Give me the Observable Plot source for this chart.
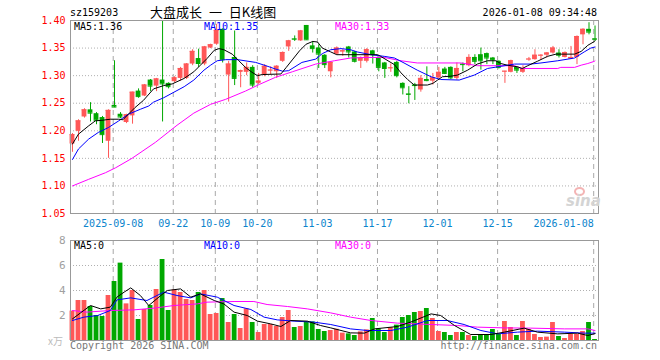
<!DOCTYPE html>
<html><head><meta charset="utf-8">
<script src="https://cdn.jsdelivr.net/npm/d3@7"></script>
<script src="https://cdn.jsdelivr.net/npm/@observablehq/plot@0.6"></script>
<style>
body{margin:0;background:#fff;}
#wrap{position:relative;width:660px;height:360px;overflow:hidden;font-family:"DejaVu Sans Mono",monospace;}
#wrap svg{position:absolute;left:0;}
.t{position:absolute;white-space:pre;font-size:10px;line-height:12px;font-family:"DejaVu Sans Mono",monospace;}
</style></head><body><div id="wrap"></div>
<script>
// ---- data (candle index 0 = 2025-08-28 ... 87 = 2026-01-08) ----
const openP = [1.176,1.199,1.225,1.238,1.231,1.224,1.181,1.246,1.230,1.215,1.227,1.272,1.263,1.292,1.281,1.292,1.286,1.289,1.295,1.295,1.321,1.331,1.321,1.350,1.357,1.384,1.301,1.333,1.306,1.306,1.315,1.286,1.301,1.309,1.307,1.326,1.352,1.367,1.363,1.391,1.354,1.350,1.337,1.307,1.339,1.343,1.352,1.343,1.326,1.326,1.345,1.332,1.323,1.313,1.324,1.286,1.267,1.283,1.274,1.293,1.290,1.296,1.312,1.315,1.295,1.321,1.318,1.333,1.338,1.340,1.332,1.326,1.307,1.306,1.315,1.306,1.329,1.329,1.336,1.337,1.341,1.341,1.333,1.330,1.333,1.374,1.384,1.367];
const highP = [1.195,1.220,1.240,1.251,1.233,1.226,1.238,1.327,1.233,1.230,1.270,1.276,1.284,1.293,1.295,1.400,1.287,1.298,1.315,1.322,1.347,1.348,1.353,1.357,1.393,1.385,1.326,1.381,1.310,1.323,1.318,1.304,1.320,1.316,1.318,1.343,1.364,1.372,1.382,1.391,1.362,1.356,1.338,1.325,1.352,1.347,1.353,1.344,1.334,1.349,1.346,1.334,1.324,1.321,1.326,1.287,1.280,1.286,1.300,1.316,1.304,1.315,1.315,1.316,1.323,1.323,1.338,1.338,1.350,1.341,1.333,1.327,1.308,1.328,1.316,1.318,1.333,1.347,1.338,1.342,1.353,1.347,1.343,1.353,1.372,1.385,1.396,1.390];
const lowP = [1.161,1.181,1.223,1.216,1.211,1.177,1.150,1.242,1.222,1.213,1.212,1.259,1.262,1.271,1.271,1.216,1.276,1.287,1.290,1.293,1.318,1.315,1.318,1.349,1.355,1.323,1.252,1.282,1.278,1.300,1.278,1.284,1.298,1.302,1.295,1.324,1.344,1.362,1.362,1.364,1.341,1.313,1.313,1.296,1.337,1.335,1.332,1.323,1.313,1.323,1.321,1.307,1.295,1.306,1.296,1.265,1.249,1.255,1.270,1.289,1.283,1.294,1.302,1.293,1.292,1.307,1.316,1.320,1.310,1.320,1.320,1.312,1.286,1.305,1.304,1.304,1.326,1.328,1.328,1.332,1.339,1.332,1.332,1.329,1.320,1.356,1.374,1.362];
const closeP = [1.193,1.218,1.238,1.232,1.219,1.193,1.237,1.243,1.225,1.229,1.270,1.262,1.283,1.281,1.294,1.285,1.280,1.296,1.313,1.321,1.344,1.322,1.352,1.356,1.382,1.329,1.321,1.295,1.309,1.315,1.283,1.290,1.317,1.310,1.317,1.342,1.363,1.366,1.381,1.365,1.349,1.339,1.320,1.324,1.350,1.345,1.343,1.326,1.332,1.347,1.338,1.315,1.313,1.314,1.300,1.278,1.266,1.282,1.295,1.291,1.296,1.306,1.304,1.296,1.313,1.320,1.333,1.326,1.327,1.332,1.329,1.315,1.308,1.327,1.310,1.313,1.330,1.337,1.337,1.341,1.350,1.337,1.342,1.333,1.371,1.384,1.379,1.366];
const volume = [2.35,3.2,3.2,2.72,2.0,1.92,3.6,4.72,6.19,2.93,4.0,1.68,2.48,2.8,4.08,6.48,2.4,4.05,3.84,3.28,3.2,3.84,4.0,2.08,2.16,3.36,1.44,2.08,0.96,2.53,1.44,0.64,1.28,1.28,1.12,1.84,2.4,1.04,1.12,1.49,1.49,0.88,0.72,0.8,0.9,0.59,0.53,0.4,0.69,0.85,1.76,0.93,0.64,1.04,1.23,1.84,2.0,2.24,2.32,2.56,1.76,0.72,0.64,0.4,0.64,0.64,0.4,0.32,0.48,0.48,0.88,0.48,1.52,1.04,0.4,1.52,0.88,0.48,0.24,0.27,1.44,0.32,0.16,0.48,0.48,0.72,1.44,0.08];

// moving-average lines: [candle index, value]
const ma5Price = [[0,1.176],[1,1.194],[2.7,1.209],[3.8,1.218],[4.9,1.219],[6.3,1.221],[7.7,1.221],[8.4,1.220],[9.3,1.230],[10.4,1.242],[11.8,1.255],[13.5,1.276],[15.2,1.282],[16.6,1.285],[17.4,1.289],[18.6,1.295],[20.2,1.307],[21.3,1.319],[22.4,1.331],[23.6,1.346],[24.4,1.349],[25.2,1.347],[26.6,1.339],[27.7,1.327],[28.8,1.315],[29.9,1.306],[30.8,1.300],[31.6,1.302],[34.7,1.303],[35.6,1.315],[36.7,1.330],[37.8,1.345],[38.9,1.357],[40,1.362],[40.8,1.361],[41.6,1.350],[43,1.343],[44,1.338],[50.8,1.338],[51.3,1.335],[53.6,1.320],[54.7,1.305],[55.8,1.293],[56.9,1.283],[59.1,1.283],[60,1.286],[60.8,1.292],[61.6,1.298],[63,1.299],[64.1,1.301],[65.8,1.310],[67.4,1.321],[69.1,1.327],[70.5,1.327],[71.3,1.322],[72.4,1.319],[74.1,1.316],[74.9,1.313],[75.8,1.318],[77.4,1.326],[79.1,1.335],[80.5,1.339],[83.6,1.339],[84.7,1.344],[85.8,1.355],[86.9,1.362],[87,1.363]];
const ma10Price = [[0,1.148],[1,1.167],[2.7,1.185],[4.3,1.197],[6,1.206],[7.7,1.218],[9.3,1.230],[11.3,1.239],[12.7,1.245],[13.5,1.252],[15.2,1.260],[16.9,1.270],[18.6,1.280],[20.2,1.292],[21.9,1.310],[23,1.319],[24.1,1.327],[25.5,1.329],[27.5,1.329],[30.5,1.324],[32.2,1.318],[33.8,1.312],[35,1.308],[36,1.309],[38.2,1.324],[40.5,1.330],[41.6,1.340],[43,1.347],[44.7,1.349],[46.3,1.347],[47.4,1.343],[49.7,1.338],[51.9,1.335],[53.6,1.332],[55.2,1.323],[57.4,1.310],[59.7,1.298],[61.3,1.293],[64.4,1.292],[66.9,1.301],[69.1,1.313],[70.8,1.316],[73.6,1.321],[76.3,1.321],[78,1.323],[80.8,1.327],[83.6,1.332],[85.2,1.343],[86.3,1.350],[87,1.352]];
const ma30Price = [[0,1.100],[2.7,1.112],[5.5,1.124],[7.2,1.133],[9.9,1.150],[13.8,1.179],[17.4,1.210],[20.2,1.232],[23,1.248],[25.5,1.257],[28.8,1.272],[31.1,1.284],[33.8,1.297],[36.6,1.307],[40.5,1.321],[43.6,1.327],[46.3,1.332],[49.1,1.333],[51.9,1.333],[54.7,1.327],[57.4,1.323],[64.7,1.323],[67.4,1.318],[73.6,1.318],[74.7,1.313],[80.8,1.313],[81.3,1.315],[83.6,1.315],[84.7,1.319],[85.8,1.322],[86.9,1.326],[87,1.327]];
const ma5Vol = [[0,1.73],[3,2.8],[4.7,2.53],[6.3,2.67],[7.4,3.47],[8.6,3.87],[9.7,4.21],[11.3,3.6],[12.7,2.8],[14.7,3.6],[15.8,4.0],[18,4.13],[19.7,3.47],[21.3,3.73],[23.6,3.2],[25.2,2.93],[26.9,2.27],[29.1,2.0],[30.8,1.55],[33,1.33],[34.7,1.12],[36.3,1.6],[39.1,1.55],[41.3,1.2],[43,1.01],[46.3,0.61],[48.6,0.59],[50.3,0.93],[54.1,1.12],[56.3,1.47],[59.7,2.13],[61.3,2.0],[63.6,1.2],[66.3,0.48],[69.7,0.48],[71.9,0.67],[75.2,0.99],[77.4,0.67],[80.8,0.53],[84.1,0.59],[85.8,0.4],[87,0.55]];
const ma10Vol = [[0,1.6],[1.9,1.87],[4.2,2.0],[6.3,2.4],[7.4,3.25],[9.7,3.41],[12.4,3.2],[15.2,3.87],[17.4,3.6],[19.7,3.41],[21.3,3.73],[24.1,3.47],[26.9,2.8],[29.7,2.48],[31.9,1.87],[34.1,1.65],[36.9,1.55],[40.2,1.47],[43,1.28],[46.3,0.93],[49.1,0.8],[53,0.8],[55.8,1.07],[59.1,1.6],[62.4,1.6],[65.2,1.28],[68,0.8],[70.8,0.53],[74.1,0.67],[77.4,0.75],[81.9,0.67],[85.2,0.59],[87,0.59]];
const ma30Vol = [[0,2.4],[2.4,2.27],[6.3,2.4],[10.2,2.45],[13.6,2.59],[16.9,2.8],[20.8,2.93],[22.4,3.07],[26.9,3.12],[30.2,3.12],[32.4,2.88],[35.8,2.72],[39.1,2.53],[43,2.21],[46.3,1.87],[49.7,1.6],[54.1,1.39],[59.7,1.28],[64.1,1.2],[67.4,1.07],[71.9,1.01],[76.3,0.99],[81.9,0.93],[85.8,0.93],[87,0.8]];

const tickIdx = [7,17,24,31,41,51,61,71,87];
const tickLabels = ["2025-09-08","09-22","10-09","10-20","11-03","11-17","12-01","12-15","2026-01-08"];
const priceTicks = [1.05,1.10,1.15,1.20,1.25,1.30,1.35,1.40];
const volTicks = [2,4,6,8];
const legendPrice = ["MA5:1.36","MA10:1.35","MA30:1.33"];
const legendVol = ["MA5:0","MA10:0","MA30:0"];

// ---- styling ----
const RED = "#ff5757", GREEN = "#00a800";
const C_MA5 = "#000000", C_MA10 = "#0000ff", C_MA30 = "#ff00ff";
const XD = [-0.33, 87.58];
const candles = openP.map((o, i) => ({i, o, h: highP[i], l: lowP[i], c: closeP[i], v: volume[i], col: closeP[i] >= o ? RED : GREEN}));
const ticks = tickIdx.map((t, j) => ({t, label: tickLabels[j]}));
const font = {fontFamily: "DejaVu Sans Mono, monospace", fontSize: "10px", background: "transparent", overflow: "visible"};
const half = 0.4;

const price = Plot.plot({
  width: 660, height: 235, marginLeft: 70, marginRight: 62, marginTop: 20, marginBottom: 22,
  x: {domain: XD, axis: null},
  y: {domain: [1.05, 1.40], axis: null},
  color: {type: "identity"},
  style: font,
  marks: [
    Plot.ruleY(priceTicks.slice(1, -1), {stroke: "#b0b0b0", strokeDasharray: "1,2"}),
    Plot.ruleX(tickIdx, {x: d => d - 0.22, stroke: "#a8a8a8", strokeDasharray: "5,4"}),
    Plot.ruleX(candles, {x: "i", y1: "l", y2: "h", stroke: "col"}),
    Plot.rect(candles, {x1: d => d.i - half, x2: d => d.i + half, y1: "o", y2: "c", fill: "col"}),
    Plot.ruleY(candles, {x1: d => d.i - half, x2: d => d.i + half, y: "c", stroke: "col"}),
    Plot.line(ma30Price, {x: d => d[0], y: d => d[1], stroke: C_MA30, strokeWidth: 1}),
    Plot.line(ma10Price, {x: d => d[0], y: d => d[1], stroke: C_MA10, strokeWidth: 1}),
    Plot.line(ma5Price, {x: d => d[0], y: d => d[1], stroke: C_MA5, strokeWidth: 1}),
    Plot.frame({stroke: "#999"}),
    Plot.text(priceTicks, {x: XD[0], y: d => d, text: d => d.toFixed(2), textAnchor: "end", dx: -5, fill: "#ff0000"}),
    Plot.text(ticks.slice(0, -1), {x: d => d.t - 0.22, y: 1.05, text: "label", dy: 10, fill: "#0b84cc"}),
    Plot.text(ticks.slice(-1), {x: d => d.t - 0.22, y: 1.05, text: "label", dy: 10, textAnchor: "end", fill: "#0b84cc"})
  ]
});

const vol = Plot.plot({
  width: 660, height: 125, marginLeft: 70, marginRight: 62, marginTop: 5, marginBottom: 20,
  x: {domain: XD, axis: null},
  y: {domain: [0, 8], axis: null},
  color: {type: "identity"},
  style: font,
  marks: [
    Plot.ruleY(volTicks.slice(0, -1), {stroke: "#b0b0b0", strokeDasharray: "1,2"}),
    Plot.ruleX(tickIdx, {x: d => d - 0.22, stroke: "#a8a8a8", strokeDasharray: "5,4"}),
    Plot.rect(candles, {x1: d => d.i - half, x2: d => d.i + half, y1: 0, y2: "v", fill: "col"}),
    Plot.line(ma30Vol, {x: d => d[0], y: d => d[1], stroke: C_MA30, strokeWidth: 1}),
    Plot.line(ma10Vol, {x: d => d[0], y: d => d[1], stroke: C_MA10, strokeWidth: 1}),
    Plot.line(ma5Vol, {x: d => d[0], y: d => d[1], stroke: C_MA5, strokeWidth: 1}),
    Plot.frame({stroke: "#999"}),
    Plot.text(volTicks, {x: XD[0], y: d => d, text: d => String(d), textAnchor: "end", dx: -5, fill: "#a0a0a0", fontSize: 11})
  ]
});

const wrap = document.getElementById("wrap");
price.style.top = "0px";
vol.style.top = "235px";
wrap.appendChild(price);
wrap.appendChild(vol);

function label(txt, css) {
  const d = document.createElement("div");
  d.className = "t";
  d.textContent = txt;
  Object.assign(d.style, css);
  wrap.appendChild(d);
  return d;
}
label("sz159203", {left: "70px", top: "7px", color: "#000"});
label("大盘成长 一 日K线图", {left: "150px", top: "4px", fontSize: "13px", lineHeight: "15px", fontFamily: "'Noto Sans CJK SC', sans-serif", wordSpacing: "4px", color: "#000"});
label("2026-01-08 09:34:48", {right: "63px", top: "7px", color: "#000"});
label(legendPrice[0], {left: "74px", top: "21px", color: C_MA5});
label(legendPrice[1], {left: "204px", top: "21px", color: C_MA10});
label(legendPrice[2], {left: "335px", top: "21px", color: C_MA30});
label(legendVol[0], {left: "74px", top: "240px", color: C_MA5});
label(legendVol[1], {left: "204px", top: "240px", color: C_MA10});
label(legendVol[2], {left: "335px", top: "240px", color: C_MA30});
label("x万", {right: "597px", top: "335px", color: "#bbbbbb", fontFamily: "'Noto Sans CJK SC', sans-serif"});
label("Copyright 2026 SINA.COM", {left: "70px", top: "340px", color: "#777"});
label("http://finance.sina.com.cn", {right: "63px", top: "340px", color: "#777"});
// watermark
const eye = document.createElement("div");
Object.assign(eye.style, {position: "absolute", left: "574px", top: "187px", width: "11px", height: "9px", borderRadius: "50%", border: "2px solid #f4b4b4", boxSizing: "border-box"});
wrap.appendChild(eye);
label("sina", {left: "566px", top: "193px", fontSize: "15px", lineHeight: "17px", fontStyle: "italic", fontWeight: "bold", fontFamily: "'DejaVu Sans', sans-serif", color: "#d4d4d4"});
</script></body></html>
